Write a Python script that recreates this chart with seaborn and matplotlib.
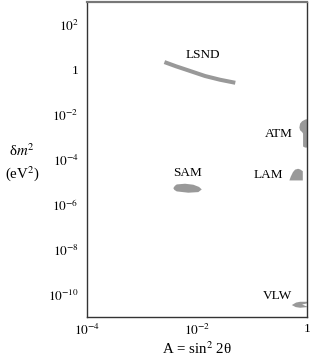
import matplotlib
matplotlib.use("Agg")
import numpy as np
import matplotlib.pyplot as plt
import seaborn as sns

# Allowed oscillation regions, outlines in log10(A), log10(dm^2 / eV^2)
lsnd_logA = [-2.59, -2.379, -2.155, -1.85, -1.577, -1.30]
lsnd_logdm2 = [0.33, 0.142, -0.04, -0.29, -0.456, -0.59]

atm_logA = [0.02, -0.029, -0.084, -0.12, -0.133, -0.12, -0.084, -0.066, -0.066, -0.029, 0.02]
atm_logdm2 = [-2.20, -2.228, -2.30, -2.405, -2.583, -2.70, -2.782, -2.848, -3.424, -3.47, -3.47]

lam_logA = [-0.315, -0.29, -0.25, -0.211, -0.157, -0.12, -0.071, -0.071]
lam_logdm2 = [-4.931, -4.76, -4.56, -4.45, -4.413, -4.44, -4.52, -4.931]

sam_logA = [-2.428, -2.40, -2.366, -2.215, -2.064, -1.96, -1.911, -1.973, -2.155, -2.366, -2.41]
sam_logdm2 = [-5.272, -5.17, -5.108, -5.077, -5.121, -5.22, -5.33, -5.449, -5.476, -5.418, -5.35]

vlw_logA = [-0.271, -0.193, -0.12, 0.02, 0.0, -0.084, 0.0, 0.02, -0.12, -0.20]
vlw_logdm2 = [-10.469, -10.358, -10.323, -10.323, -10.40, -10.447, -10.53, -10.558, -10.589, -10.56]

# Region labels
label_names = ["LSND", "ATM", "LAM", "SAM", "VLW"]
label_logA = [-1.887, -0.508, -0.703, -2.166, -0.530]
label_logdm2 = [0.652, -2.848, -4.687, -4.585, -10.062]

# Axis ticks
xtick_exp = [-4, -3, -2, -1, 0]
xtick_labels = ["$10^{-4}$", "", "$10^{-2}$", "", "1"]
ytick_exp = [2, 0, -2, -4, -6, -8, -10]
ytick_labels = ["$10^{2}$", "1", "$10^{-2}$", "$10^{-4}$", "$10^{-6}$", "$10^{-8}$", "$10^{-10}$"]

sns.set_style("white")
plt.rcParams['font.family'] = ['Liberation Serif', 'DejaVu Serif']
plt.rcParams['mathtext.fontset'] = 'stix'
plt.rcParams['font.size'] = 9.5

fill_color = "#999999"
ink = "#000000"

fig = plt.figure(figsize=(3.19, 3.63), dpi=100)
ax = fig.add_axes([87 / 319, 46 / 363, 219.7 / 319, 315 / 363])

# LSND band drawn as a thick curve
sns.lineplot(x=10 ** np.array(lsnd_logA), y=10 ** np.array(lsnd_logdm2), ax=ax,
             sort=False, estimator=None, color=fill_color, linewidth=2.9,
             solid_capstyle='butt')

for lx, ly in [(atm_logA, atm_logdm2), (lam_logA, lam_logdm2),
               (sam_logA, sam_logdm2), (vlw_logA, vlw_logdm2)]:
    ax.fill(10 ** np.array(lx), 10 ** np.array(ly), color=fill_color, lw=0)

for name, lx, ly in zip(label_names, label_logA, label_logdm2):
    ax.text(10 ** lx, 10 ** ly, name, ha='center', va='center', color=ink, fontsize=9.5)

ax.set_xscale('log')
ax.set_yscale('log')
ax.set_xlim(1e-4, 1)
ax.set_ylim(1e-11, 1e3)

ax.set_xticks([10.0 ** e for e in xtick_exp])
ax.set_xticklabels(xtick_labels)
ax.set_yticks([10.0 ** e for e in ytick_exp])
ax.set_yticklabels(ytick_labels)
ax.minorticks_off()
ax.tick_params(axis='x', direction='in', length=4.5, width=0.8, color='#333333', pad=4, labelcolor=ink)
ax.tick_params(axis='y', direction='in', length=4.5, width=0.8, color='#333333', pad=6, labelcolor=ink)

for side in ['left', 'bottom', 'right']:
    ax.spines[side].set_color('#333333')
    ax.spines[side].set_linewidth(1.0)
ax.spines['top'].set_color('#777777')
ax.spines['top'].set_linewidth(1.6)

ax.set_xlabel("A = sin$^2$ 2θ", color=ink, labelpad=2, fontsize=10.7)
ax.set_ylabel("δ$m^2$\n(eV$^2$)", rotation=0, ha='center', va='center', color=ink,
              linespacing=1.4, fontsize=10.7)
ax.yaxis.set_label_coords(-0.296, 0.49)

fig.savefig("out.png", dpi=100)
